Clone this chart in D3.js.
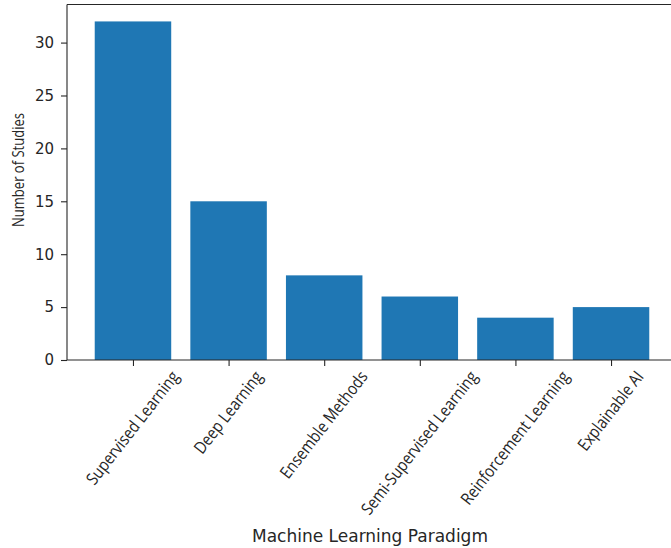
<!DOCTYPE html>
<html>
<head>
<meta charset="utf-8">
<script src="https://cdn.jsdelivr.net/npm/d3@7"></script>
<style>
  html, body { margin: 0; padding: 0; background: #fff; }
  svg { display: block; }
</style>
</head>
<body>
<svg id="chart" width="671" height="548"></svg>
<script>
// Number of studies per machine learning paradigm
const paradigms = [
  "Supervised Learning",
  "Deep Learning",
  "Ensemble Methods",
  "Semi-Supervised Learning",
  "Reinforcement Learning",
  "Explainable AI"
];
const studyCounts = [32, 15, 8, 6, 4, 5];
const yTicks = [0, 5, 10, 15, 20, 25, 30];

(function draw() {
  const svg = d3.select("#chart");

  // plot frame (right edge falls just outside the view)
  const plotLeft = 67, plotRight = 677, plotTop = 4.5, plotBottom = 360;

  const x = d3.scaleLinear()
    .domain([-0.69, paradigms.length - 1 + 0.69])
    .range([plotLeft, plotRight]);
  const y = d3.scaleLinear()
    .domain([0, d3.max(studyCounts) * 1.05])
    .range([plotBottom, plotTop]);

  const barColor = "#1f77b4";
  const ink = "#262626";

  // bars
  svg.append("g")
    .selectAll("rect")
    .data(studyCounts)
    .join("rect")
    .attr("x", (d, i) => x(i - 0.4))
    .attr("width", (d, i) => x(i + 0.4) - x(i - 0.4))
    .attr("y", d => y(d))
    .attr("height", d => y(0) - y(d))
    .attr("fill", barColor);

  // y axis
  const yAxis = svg.append("g")
    .attr("transform", `translate(${plotLeft},0)`)
    .call(d3.axisLeft(y).tickValues(yTicks).tickSize(6).tickPadding(7).tickSizeOuter(0));
  yAxis.select(".domain").remove();
  yAxis.selectAll("line").attr("stroke", ink).attr("stroke-width", 1.1);
  yAxis.selectAll("text")
    .attr("font-family", "DejaVu Sans")
    .attr("font-size", "15px")
    .attr("fill", ink);

  // x axis ticks
  const xAxis = svg.append("g")
    .attr("transform", `translate(0,${plotBottom})`)
    .call(d3.axisBottom(x).tickValues(d3.range(paradigms.length))
      .tickSize(6).tickFormat(i => paradigms[i]).tickSizeOuter(0));
  xAxis.select(".domain").remove();
  xAxis.selectAll("line").attr("stroke", ink).attr("stroke-width", 1.1);

  // rotated, slightly condensed category labels, centred under each tick
  const angle = -52;
  const labelSize = 17;
  const condense = 0.86;
  xAxis.selectAll("text").each(function() {
    const t = d3.select(this)
      .attr("font-family", "Open Sans")
      .attr("font-size", labelSize + "px")
      .attr("fill", ink)
      .attr("text-anchor", "middle")
      .attr("y", 0)
      .attr("dy", "0.35em");
    const len = this.getComputedTextLength() * condense;
    t.attr("textLength", len).attr("lengthAdjust", "spacingAndGlyphs");
    const rad = Math.abs(angle) * Math.PI / 180;
    const h = labelSize * 0.8;
    const boxH = len * Math.sin(rad) + h * Math.cos(rad);
    t.attr("transform", `translate(-1,${9 + boxH / 2}) rotate(${angle})`);
  });

  // spines
  const frame = svg.append("g").attr("fill", "none").attr("stroke", ink).attr("stroke-width", 1.1);
  frame.append("line").attr("x1", plotLeft).attr("x2", plotLeft).attr("y1", plotTop).attr("y2", plotBottom);
  frame.append("line").attr("x1", plotLeft).attr("x2", plotRight).attr("y1", plotBottom).attr("y2", plotBottom);
  frame.append("line").attr("x1", plotLeft).attr("x2", plotRight).attr("y1", plotTop).attr("y2", plotTop);
  frame.append("line").attr("x1", plotRight).attr("x2", plotRight).attr("y1", plotTop).attr("y2", plotBottom);

  // axis titles
  svg.append("text")
    .attr("x", (plotLeft + plotRight) / 2 - 2)
    .attr("y", 542)
    .attr("text-anchor", "middle")
    .attr("font-family", "DejaVu Sans")
    .attr("font-size", "17px")
    .attr("fill", ink)
    .text("Machine Learning Paradigm");

  svg.append("text")
    .attr("transform", `translate(18,170) rotate(-90)`)
    .attr("text-anchor", "middle")
    .attr("dy", "0.35em")
    .attr("font-family", "Open Sans")
    .attr("font-size", "17px")
    .attr("textLength", 114)
    .attr("lengthAdjust", "spacingAndGlyphs")
    .attr("fill", ink)
    .text("Number of Studies");
})();
</script>
</body>
</html>
